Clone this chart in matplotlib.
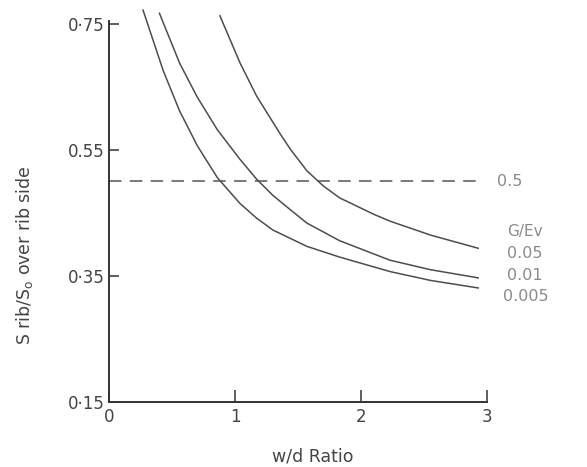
import matplotlib
matplotlib.use("Agg")
import matplotlib.pyplot as plt

plt.rcParams['lines.scale_dashes'] = False
plt.rcParams['font.family'] = ['DejaVu Sans']

# Data
x_005 = [0.27, 0.43, 0.56, 0.70, 0.86, 1.04, 1.17, 1.30, 1.57, 1.83, 2.23, 2.55, 2.93]
y_005 = [0.772, 0.676, 0.612, 0.557, 0.506, 0.465, 0.442, 0.423, 0.397, 0.380, 0.357, 0.343, 0.331]

x_01 = [0.40, 0.56, 0.70, 0.86, 1.04, 1.17, 1.30, 1.44, 1.57, 1.83, 2.23, 2.55, 2.93]
y_01 = [0.767, 0.688, 0.634, 0.582, 0.535, 0.504, 0.478, 0.455, 0.434, 0.406, 0.375, 0.360, 0.347]

x_05 = [0.88, 1.04, 1.17, 1.36, 1.44, 1.57, 1.70, 1.83, 2.10, 2.23, 2.55, 2.93]
y_05 = [0.763, 0.688, 0.636, 0.575, 0.551, 0.517, 0.493, 0.474, 0.448, 0.437, 0.415, 0.394]

ref_level = 0.5
ref_x = [0.0, 2.93]

x_ticks = [0, 1, 2, 3]
x_ticklabels = ["0", "1", "2", "3"]
y_ticks = [0.15, 0.35, 0.55, 0.75]
y_ticklabels = ["0·15", "0·35", "0.55", "0·75"]

series_labels = ["0.05", "0.01", "0.005"]
legend_title = "G/Ev"

fig = plt.figure(figsize=(5.87, 4.67), dpi=100)
ax = fig.add_axes([0.1857, 0.1392, 0.644, 0.850])

line_col = "#4d4d4d"
ax.plot(x_005, y_005, color=line_col, lw=1.1, clip_on=False)
ax.plot(x_01, y_01, color=line_col, lw=1.1, clip_on=False)
ax.plot(x_05, y_05, color=line_col, lw=1.1, clip_on=False)
ax.plot(ref_x, [ref_level, ref_level], color="#555555", lw=1.1,
        dashes=(9, 6), clip_on=False)

ax.set_xlim(0, 3)
ax.set_ylim(0.15, 0.78)

for s in ["top", "right"]:
    ax.spines[s].set_visible(False)
ax.spines["left"].set_bounds(0.15, 0.755)
ax.spines["bottom"].set_bounds(0, 3)
ax.spines["left"].set_linewidth(1.4)
ax.spines["bottom"].set_linewidth(1.4)
ax.spines["left"].set_color("#333333")
ax.spines["bottom"].set_color("#333333")

ax.set_xticks(x_ticks)
ax.set_xticklabels(x_ticklabels)
ax.set_yticks(y_ticks)
ax.set_yticklabels(y_ticklabels)
ax.tick_params(axis="x", direction="in", length=9, width=1.1, colors="#333333",
               labelsize=12, pad=4, labelcolor="#444444")
ax.tick_params(axis="y", direction="in", length=7, width=1.1, colors="#333333",
               labelsize=12, pad=3, labelcolor="#444444")

ax.set_xlabel("w/d Ratio", fontsize=12.5, color="#444444")
ax.xaxis.set_label_coords(0.54, -0.115)
ax.set_ylabel(r"S rib/S$_{\mathregular{o}}$ over rib side", fontsize=12.5, color="#444444")
ax.yaxis.set_label_coords(-0.195, 0.37)

txt_col = "#8a8a8a"
ax.text(3.08, ref_level, "0.5", fontsize=11.5, color=txt_col, ha="left", va="center", clip_on=False)
ax.text(3.16, 0.421, legend_title, fontsize=11, color=txt_col, ha="left", va="center", clip_on=False)
label_y = [0.386, 0.350, 0.318]
label_x = [3.16, 3.16, 3.13]
for lx, ly, lab in zip(label_x, label_y, series_labels):
    ax.text(lx, ly, lab, fontsize=11.5, color=txt_col, ha="left", va="center", clip_on=False)

fig.savefig("out.png", dpi=100)
